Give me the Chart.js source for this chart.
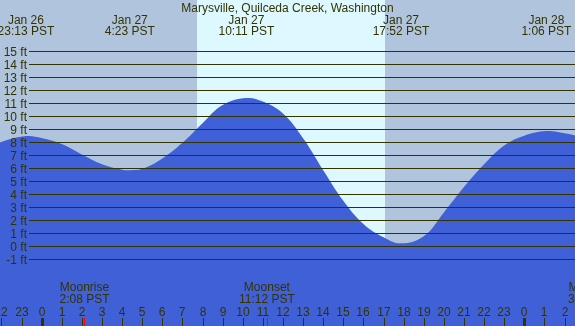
<!DOCTYPE html>
<html>
<head>
<meta charset="utf-8">
<script src="https://cdn.jsdelivr.net/npm/chart.js@4/dist/chart.umd.min.js"></script>
<style>
  html, body { margin: 0; padding: 0; background: #B0C4DE; }
  #tide { display: block; }
</style>
</head>
<body>
<canvas id="tide" width="575" height="326"></canvas>
<script>
// hours from midnight Jan 27 (PST) and tide height in feet
const tideHours = [-3, -2, -0.78, 0, 1, 2, 3, 4, 4.38, 5, 6, 7, 8, 9, 10.18, 11, 12, 13, 14, 15, 16, 17, 17.87,
    19, 20, 21, 22, 23, 24, 25.1, 26, 27];
const tideFeet = [7.45, 8.02, 8.47, 8.32, 7.85, 7.05, 6.3, 5.88, 5.84, 5.95, 6.75, 7.95, 9.45, 10.85, 11.39, 11.12,
    10.2, 8.3, 5.85, 3.5, 1.72, 0.7, 0.23, 0.78, 2.6, 4.55, 6.3, 7.75, 8.5, 8.85, 8.68, 8.35];

// high / low tide labels
const extremeHours = [-0.78, 4.38, 10.18, 17.87, 25.10];
const extremeDays = ['Jan 26', 'Jan 27', 'Jan 27', 'Jan 27', 'Jan 28'];
const extremeTimes = ['23:13 PST', '4:23 PST', '10:11 PST', '17:52 PST', '1:06 PST'];

// daylight band
const sunrise = 7.72;
const sunset = 17.07;

// moon events
const moonHours = [2.13, 11.2, 27.42];
const moonNames = ['Moonrise', 'Moonset', 'Moonrise'];
const moonTimes = ['2:08 PST', '11:12 PST', '3:25 PST'];

const yTicks = [-1, 0, 1, 2, 3, 4, 5, 6, 7, 8, 9, 10, 11, 12, 13, 14, 15];
const hourTicks = [];
for (let h = -2; h <= 27; h++) hourTicks.push(h);

const title = 'Marysville, Quilceda Creek, Washington';

const FONT = '12px "Liberation Sans", Arial, sans-serif';
const INK = '#333300';

const dayNight = {
    id: 'dayNight',
    beforeDatasetsDraw(chart) {
        const ctx = chart.ctx;
        const x = chart.scales.x;
        const a = Math.round(x.getPixelForValue(sunrise));
        const b = Math.round(x.getPixelForValue(sunset));
        ctx.save();
        ctx.fillStyle = '#B0C4DE';
        ctx.fillRect(0, 0, chart.width, chart.height);
        ctx.fillStyle = '#DDF8FF';
        ctx.fillRect(a, 0, b - a, chart.height);
        ctx.restore();
    }
};

const labels = {
    id: 'labels',
    afterDatasetsDraw(chart) {
        const ctx = chart.ctx;
        const x = chart.scales.x;
        const y = chart.scales.y;
        const right = chart.chartArea.right;
        ctx.save();
        ctx.font = FONT;
        ctx.fillStyle = INK;
        ctx.strokeStyle = INK;
        ctx.lineWidth = 1;

        // horizontal grid + foot labels
        yTicks.forEach(v => {
            const py = Math.round(y.getPixelForValue(v)) + 0.5;
            ctx.beginPath();
            ctx.moveTo(29, py);
            ctx.lineTo(right, py);
            ctx.stroke();
            ctx.textAlign = 'right';
            ctx.textBaseline = 'alphabetic';
            ctx.fillText(v + ' ft', 27, py + 4);
        });

        ctx.textAlign = 'center';
        ctx.textBaseline = 'alphabetic';
        ctx.fillText(title, chart.width / 2, 12);

        extremeHours.forEach((h, i) => {
            const px = x.getPixelForValue(h);
            ctx.fillText(extremeDays[i], px, 24);
            ctx.fillText(extremeTimes[i], px, 35);
        });

        // hour ticks along the bottom
        hourTicks.forEach(h => {
            const px = Math.round(x.getPixelForValue(h));
            const hh = ((h % 24) + 24) % 24;
            ctx.fillText(String(hh), px, 316);
            if (hh === 0) ctx.fillRect(px - 1, 318, 3, 8);
            else ctx.fillRect(px, 318, 1, 8);
        });

        moonHours.forEach((h, i) => {
            const px = x.getPixelForValue(h);
            ctx.fillStyle = INK;
            ctx.fillText(moonNames[i], px, 291);
            ctx.fillText(moonTimes[i], px, 303);
            ctx.fillStyle = '#FF0000';
            ctx.fillRect(Math.round(px), 318, 1, 8);
        });
        ctx.restore();
    }
};

new Chart(document.getElementById('tide'), {
    type: 'line',
    data: {
        datasets: [{
            data: tideHours.map((h, i) => ({ x: h, y: tideFeet[i] })),
            fill: 'start',
            backgroundColor: '#4060D7',
            borderColor: 'rgba(0,0,0,0)',
            borderWidth: 0,
            pointRadius: 0,
            tension: 0.4
        }]
    },
    options: {
        responsive: false,
        animation: false,
        devicePixelRatio: 1,
        layout: { padding: 0 },
        plugins: {
            legend: { display: false },
            tooltip: { enabled: false }
        },
        scales: {
            x: { type: 'linear', min: -2.07, max: 26.52, display: false },
            y: { type: 'linear', min: -6.12, max: 18.92, display: false }
        }
    },
    plugins: [dayNight, labels]
});
</script>
</body>
</html>
